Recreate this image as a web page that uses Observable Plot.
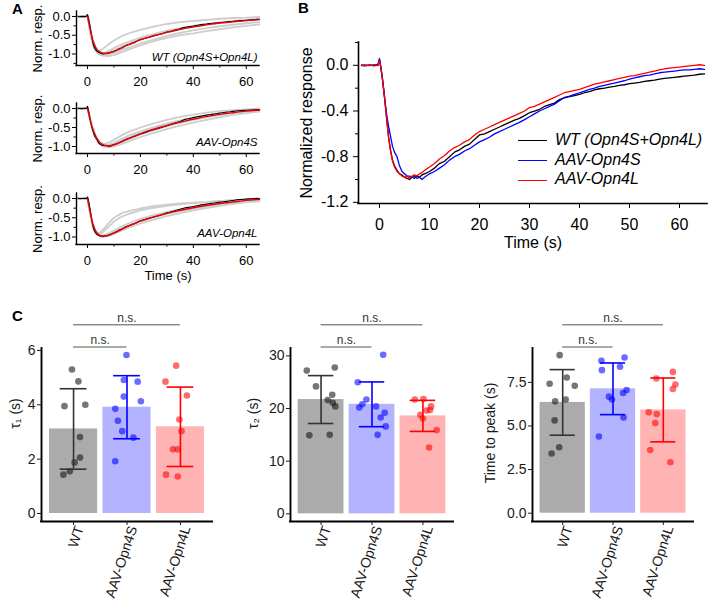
<!DOCTYPE html>
<html>
<head>
<meta charset="utf-8">
<script src="https://cdn.jsdelivr.net/npm/d3@7"></script>
<script src="https://cdn.jsdelivr.net/npm/@observablehq/plot@0.6"></script>
<style>
  html, body { margin: 0; padding: 0; background: #fff; }
  #fig { position: relative; width: 708px; height: 604px; overflow: hidden; font-family: Arial, 'Liberation Sans', sans-serif; background: #fff; color: #000; }
  .plab { position: absolute; font-weight: bold; font-size: 15px; line-height: 15px; }
  .leg { position: absolute; left: 518px; font-size: 16px; font-style: italic; line-height: 18px; white-space: nowrap; }
  .leg i { display: inline-block; width: 29px; height: 0; border-top: 1.5px solid; vertical-align: middle; margin-right: 8px; }
</style>
</head>
<body>
<div id="fig">
  <div class="plab" style="left:12px;top:1px">A</div>
  <div class="plab" style="left:298px;top:0px">B</div>
  <div class="plab" style="left:12px;top:308px">C</div>
</div>
<script>
// ---------- Data: time courses (normalized response) ----------
const seriesNames = ["WT (Opn4S+Opn4L)", "AAV-Opn4S", "AAV-Opn4L"];
const seriesColors = ["#000000", "#0000ff", "#ff0000"];

const tB = [-3.6,-3,-2,-1,-0.3,0,0.3,0.6,1,1.4,1.8,2.2,2.6,3,3.5,4,4.5,5,5.5,6,6.5,7,7.5,8,8.5,9,
  10,11,12,13,14,15,16,17,18,19,20,21,22,23,24,25,26,27,28,29,30,31,32,33,34,35,36,37,38,39,
  40,41,42,43,44,45,46,47,48,49,50,51,52,53,54,55,56,57,58,59,60,61,62,63,64,65];

const wtTrace = [0.0,-0.005,0.003,-0.004,0.01,0.05,-0.02,-0.12,-0.27,-0.45,-0.62,-0.74,-0.83,-0.88,-0.92,-0.95,-0.96,-0.98,-0.99,-1.0,-0.98,-0.99,-0.97,-0.98,-0.96,-0.95,
  -0.93,-0.9,-0.86,-0.84,-0.8,-0.76,-0.74,-0.71,-0.69,-0.65,-0.61,-0.6,-0.58,-0.56,-0.54,-0.52,-0.5,-0.48,-0.465,-0.44,
  -0.415,-0.4,-0.385,-0.36,-0.345,-0.33,-0.3,-0.285,-0.275,-0.265,-0.255,-0.24,-0.23,-0.215,-0.205,-0.2,-0.19,-0.185,-0.175,-0.17,
  -0.16,-0.155,-0.15,-0.14,-0.135,-0.13,-0.12,-0.115,-0.11,-0.105,-0.1,-0.095,-0.09,-0.085,-0.078,-0.075];

const opn4sTrace = [0.0,0.004,-0.003,0.005,0.0,0.06,-0.03,-0.12,-0.28,-0.42,-0.53,-0.62,-0.71,-0.76,-0.8,-0.88,-0.93,-0.95,-0.97,-0.97,-0.98,-0.97,-0.99,-0.98,-1.0,-0.98,
  -0.95,-0.93,-0.9,-0.87,-0.83,-0.8,-0.78,-0.75,-0.73,-0.7,-0.67,-0.65,-0.63,-0.6,-0.58,-0.56,-0.54,-0.52,-0.5,-0.475,
  -0.45,-0.425,-0.4,-0.38,-0.36,-0.34,-0.31,-0.28,-0.27,-0.255,-0.24,-0.225,-0.21,-0.2,-0.185,-0.175,-0.165,-0.155,-0.145,-0.135,
  -0.12,-0.11,-0.1,-0.09,-0.085,-0.075,-0.065,-0.06,-0.055,-0.05,-0.045,-0.04,-0.04,-0.035,-0.03,-0.035];

const opn4lTrace = [0.005,-0.003,0.0,0.004,-0.003,0.04,-0.03,-0.13,-0.28,-0.46,-0.63,-0.75,-0.84,-0.89,-0.93,-0.95,-0.97,-0.98,-0.97,-0.99,-0.97,-0.96,-0.97,-0.95,-0.94,-0.92,
  -0.89,-0.86,-0.82,-0.79,-0.75,-0.72,-0.7,-0.67,-0.65,-0.61,-0.58,-0.56,-0.54,-0.52,-0.5,-0.48,-0.46,-0.44,-0.42,-0.4,
  -0.37,-0.36,-0.34,-0.32,-0.3,-0.28,-0.26,-0.24,-0.23,-0.22,-0.21,-0.195,-0.18,-0.165,-0.155,-0.145,-0.135,-0.125,-0.115,-0.105,
  -0.095,-0.09,-0.08,-0.07,-0.06,-0.05,-0.04,-0.03,-0.025,-0.02,-0.015,-0.01,-0.005,0.0,0.005,0.0];

// Fits (red lines in panel A)
const tFit = [0,0.5,1,1.5,2,2.5,3,3.5,4,5,6,7,8,9,10,12,14,16,18,20,23,26,30,34,38,42,46,50,55,60,65];
const wtFit = [0.0,-0.16,-0.34,-0.5,-0.63,-0.73,-0.81,-0.87,-0.91,-0.96,-0.98,-0.985,-0.975,-0.955,-0.93,-0.87,-0.8,-0.74,-0.68,-0.62,-0.555,-0.495,-0.425,-0.36,-0.305,-0.255,-0.21,-0.175,-0.14,-0.11,-0.085];
const opn4sFit = [0.0,-0.15,-0.3,-0.43,-0.54,-0.63,-0.71,-0.78,-0.83,-0.91,-0.955,-0.975,-0.98,-0.97,-0.955,-0.9,-0.84,-0.78,-0.72,-0.665,-0.59,-0.525,-0.45,-0.375,-0.31,-0.25,-0.2,-0.155,-0.11,-0.07,-0.04];
const opn4lFit = [0.0,-0.17,-0.35,-0.52,-0.65,-0.75,-0.83,-0.88,-0.92,-0.965,-0.975,-0.97,-0.955,-0.93,-0.9,-0.835,-0.765,-0.7,-0.645,-0.59,-0.52,-0.46,-0.385,-0.32,-0.265,-0.215,-0.17,-0.13,-0.09,-0.05,-0.02];

// Individual cells (gray lines in panel A)
const tGray = [-4,-1,0,1,2,3,4,5,6,8,10,13,16,20,25,30,35,40,45,50,55,60,65];
const wtGray = [
  [0.02,-0.01,0.03,-0.42,-0.76,-0.9,-0.93,-0.9,-0.85,-0.74,-0.64,-0.52,-0.44,-0.36,-0.27,-0.2,-0.15,-0.12,-0.09,-0.06,-0.04,-0.03,-0.01],
  [0.0,0.01,0.02,-0.3,-0.68,-0.88,-0.97,-1.0,-0.98,-0.92,-0.84,-0.74,-0.66,-0.56,-0.47,-0.38,-0.31,-0.25,-0.2,-0.16,-0.12,-0.09,-0.06],
  [-0.01,0.0,0.02,-0.35,-0.72,-0.92,-1.0,-1.03,-1.04,-1.02,-0.97,-0.89,-0.82,-0.72,-0.62,-0.52,-0.44,-0.37,-0.31,-0.26,-0.22,-0.18,-0.15],
  [0.01,-0.01,0.02,-0.38,-0.7,-0.86,-0.93,-0.96,-0.97,-0.95,-0.9,-0.8,-0.71,-0.6,-0.49,-0.4,-0.33,-0.27,-0.22,-0.17,-0.13,-0.1,-0.07],
  [0.0,0.0,0.01,-0.28,-0.6,-0.82,-0.94,-1.0,-1.04,-1.06,-1.03,-0.95,-0.87,-0.77,-0.66,-0.57,-0.5,-0.45,-0.39,-0.34,-0.29,-0.25,-0.21]
];
const opn4sGray = [
  [0.01,0.0,0.03,-0.32,-0.58,-0.76,-0.87,-0.93,-0.94,-0.9,-0.82,-0.7,-0.6,-0.5,-0.39,-0.3,-0.22,-0.16,-0.11,-0.07,-0.04,-0.02,0.0],
  [0.0,0.01,0.02,-0.3,-0.55,-0.73,-0.85,-0.93,-0.97,-0.96,-0.9,-0.8,-0.7,-0.6,-0.49,-0.39,-0.31,-0.24,-0.18,-0.13,-0.09,-0.06,-0.03],
  [-0.01,0.0,0.02,-0.26,-0.5,-0.7,-0.84,-0.93,-0.99,-1.01,-0.97,-0.88,-0.79,-0.68,-0.57,-0.47,-0.38,-0.3,-0.23,-0.17,-0.12,-0.08,-0.05],
  [0.0,-0.01,0.02,-0.28,-0.52,-0.72,-0.86,-0.95,-1.0,-1.02,-1.0,-0.93,-0.85,-0.75,-0.64,-0.54,-0.45,-0.37,-0.3,-0.23,-0.17,-0.12,-0.08],
  [0.01,0.0,0.01,-0.3,-0.56,-0.75,-0.88,-0.95,-0.98,-0.97,-0.93,-0.84,-0.75,-0.64,-0.53,-0.43,-0.35,-0.28,-0.21,-0.15,-0.11,-0.07,-0.04]
];
const opn4lGray = [
  [0.01,0.0,0.03,-0.42,-0.76,-0.9,-0.92,-0.87,-0.8,-0.64,-0.5,-0.38,-0.32,-0.26,-0.2,-0.16,-0.13,-0.11,-0.09,-0.06,-0.04,-0.02,-0.01],
  [0.0,0.01,0.02,-0.38,-0.72,-0.88,-0.93,-0.91,-0.86,-0.73,-0.6,-0.47,-0.39,-0.31,-0.24,-0.19,-0.15,-0.12,-0.1,-0.07,-0.05,-0.03,-0.02],
  [-0.01,0.0,0.02,-0.36,-0.7,-0.88,-0.95,-0.97,-0.96,-0.9,-0.83,-0.72,-0.63,-0.53,-0.43,-0.35,-0.28,-0.22,-0.17,-0.12,-0.08,-0.05,-0.03],
  [0.0,-0.01,0.02,-0.33,-0.66,-0.86,-0.95,-0.99,-1.0,-0.97,-0.92,-0.83,-0.75,-0.65,-0.55,-0.46,-0.38,-0.31,-0.25,-0.19,-0.14,-0.1,-0.07],
  [0.01,0.0,0.01,-0.35,-0.68,-0.87,-0.95,-0.98,-0.98,-0.94,-0.88,-0.78,-0.69,-0.59,-0.49,-0.4,-0.33,-0.26,-0.21,-0.15,-0.11,-0.07,-0.05]
];

// ---------- Data: kinetics summary (panel C) ----------
const groups = ["WT", "AAV-Opn4S", "AAV-Opn4L"];

const tau1Mean = [3.11, 3.91, 3.19];
const tau1Sd = [1.48, 1.16, 1.46];
const tau1Points = [
  [5.3,4.86,3.95,4.0,2.81,2.06,1.88,1.55,1.43],
  [5.83,4.91,4.85,4.30,4.13,3.85,3.41,3.03,2.79,1.92],
  [5.44,4.85,4.34,3.46,3.03,2.36,2.36,1.43,1.36]
];
const tau1Jitter = [
  [-0.03,0.09,-0.17,0.22,0.12,0.12,0.02,-0.07,-0.19],
  [-0.01,-0.06,0.2,-0.06,0.26,-0.22,-0.17,-0.09,0.12,-0.22],
  [-0.08,-0.28,0.12,-0.02,0.02,-0.14,-0.05,-0.27,-0.05]
];

const tau2Mean = [21.7, 20.8, 18.6];
const tau2Sd = [4.55, 4.25, 2.95];
const tau2Points = [
  [27.2,27.8,24.2,22.6,21.6,21.1,20.4,14.9,15.0],
  [30.2,25.0,21.7,20.8,20.2,20.4,19.2,18.3,16.6,15.0],
  [21.7,21.8,20.4,19.7,19.6,18.8,18.1,15.9,12.6]
];
const tau2Jitter = [
  [-0.28,0.27,-0.1,0.22,0.13,0.23,0.28,-0.23,0.17],
  [0.22,-0.28,-0.11,-0.19,-0.25,0.08,0.25,0.17,0.27,0.11],
  [-0.16,0.01,0.16,0.14,0.07,-0.05,0.0,0.27,0.12]
];

const ttpMean = [6.35, 7.13, 5.92];
const ttpSd = [1.88, 1.48, 1.83];
const ttpPoints = [
  [9.06,7.78,7.42,7.3,6.52,6.41,5.32,3.78,3.42],
  [8.74,8.92,8.2,8.39,7.06,6.89,6.68,6.52,5.49,4.40],
  [7.72,8.1,7.38,7.12,5.68,5.78,5.17,3.62,2.92]
];
const ttpJitter = [
  [-0.06,0.08,-0.26,0.24,0.06,-0.15,-0.16,-0.07,-0.22],
  [-0.23,0.23,-0.22,0.14,0.27,0.2,-0.08,-0.02,0.21,-0.28],
  [-0.14,0.19,0.24,0.19,-0.13,-0.29,-0.16,-0.26,0.14]
];

const nsPairs = [[0, 1, "n.s."], [0, 2, "n.s."]];

// ---------- Rendering ----------
const FONT = "Arial, 'Liberation Sans', sans-serif";
const fig = document.getElementById("fig");
function place(el, left, top) {
  const d = document.createElement("div");
  d.style.cssText = `position:absolute;left:${left}px;top:${top}px;`;
  d.appendChild(el);
  fig.appendChild(d);
}
function axisLines(xDom, yDom, w) {
  return [
    Plot.ruleX([xDom[0]], {stroke: "#000", strokeWidth: w, strokeLinecap: "square"}),
    Plot.ruleY([yDom[0]], {stroke: "#000", strokeWidth: w, strokeLinecap: "square"})
  ];
}
const series = (t, v) => t.map((x, i) => ({t: x, v: v[i]}));
const yTitle = (label, dx, dy, fontSize) =>
  Plot.text([label], {text: d => d, frameAnchor: "left", dx, dy, rotate: -90, textAnchor: "middle", lineAnchor: "middle", fontSize});
const xTitle = (label, dy, fontSize) =>
  Plot.text([label], {text: d => d, frameAnchor: "bottom", dy, textAnchor: "middle", lineAnchor: "middle", fontSize});

// Panel A
const A_X = [-4.15, 65];
const aCfg = [
  {top: 0, height: 90, mt: 11, mb: 25, yDom: [-1.307, 0.133], minorY: [-0.25, -0.75, -1.25], trace: wtTrace, fit: wtFit, grays: wtGray, label: seriesNames[0], labDy: -5},
  {top: 90, height: 90, mt: 13, mb: 27, yDom: [-1.184, 0.132], minorY: [-0.25, -0.75], trace: opn4sTrace, fit: opn4sFit, grays: opn4sGray, label: seriesNames[1], labDy: -8},
  {top: 180, height: 110, mt: 13, mb: 46, yDom: [-1.195, 0.13], minorY: [-0.25, -0.75], trace: opn4lTrace, fit: opn4lFit, grays: opn4lGray, label: seriesNames[2], labDy: -7.5, xlabel: "Time (s)"}
];
for (const c of aCfg) {
  const marks = [
    ...c.grays.map(g => Plot.line(series(tGray, g), {x: "t", y: "v", stroke: "#cdcdcd", strokeWidth: 1.8})),
    Plot.line(series(tB, c.trace), {x: "t", y: "v", stroke: "#000", strokeWidth: 1.1}),
    Plot.line(series(tFit, c.fit), {x: "t", y: "v", stroke: "#e8000b", strokeWidth: 1.4, curve: "monotone-x"}),
    ...axisLines(A_X, c.yDom, 1.4),
    Plot.axisX({ticks: [0, 20, 40, 60], tickSize: 4, tickPadding: 7, tickFormat: d => String(d), fontSize: 13, label: null}),
    Plot.axisX({ticks: [10, 30, 50], tickSize: 2.5, tickFormat: () => "", label: null}),
    Plot.axisY({ticks: [0, -0.5, -1], tickSize: 4, tickPadding: 2, tickFormat: d => d.toFixed(1), fontSize: 13, label: null}),
    Plot.axisY({ticks: c.minorY, tickSize: 2.5, tickFormat: () => "", label: null}),
    yTitle("Norm. resp.", -39, 0, 13),
    Plot.text([c.label], {text: d => d, frameAnchor: "bottom-right", dx: -2, dy: c.labDy, textAnchor: "end", lineAnchor: "bottom", fontStyle: "italic", fontSize: 11.5})
  ];
  if (c.xlabel) marks.push(xTitle(c.xlabel, 31, 13));
  const p = Plot.plot({
    width: 265, height: c.height, marginLeft: 76, marginRight: 6, marginTop: c.mt, marginBottom: c.mb,
    style: {fontFamily: FONT, fontSize: "13px", background: "transparent", overflow: "visible", color: "#000"},
    x: {domain: A_X}, y: {domain: c.yDom},
    marks
  });
  place(p, 0, c.top);
}

// Panel B
const B_X = [-4.2, 65.6], B_Y = [-1.21, 0.2];
const traces = [wtTrace, opn4sTrace, opn4lTrace];
const pB = Plot.plot({
  width: 438, height: 260, marginLeft: 88, marginRight: 1, marginTop: 42, marginBottom: 57,
  style: {fontFamily: FONT, fontSize: "16px", background: "transparent", overflow: "visible", color: "#000"},
  x: {domain: B_X}, y: {domain: B_Y},
  marks: [
    ...traces.map((tr, k) => Plot.line(series(tB, tr), {x: "t", y: "v", stroke: seriesColors[k], strokeWidth: 1.3})),
    ...axisLines(B_X, B_Y, 1.6),
    Plot.axisX({ticks: [0, 10, 20, 30, 40, 50, 60], tickSize: 5, tickPadding: 10, tickFormat: d => String(d), fontSize: 16, label: null}),
    Plot.axisY({ticks: [0, -0.4, -0.8, -1.2], tickSize: 5, tickPadding: 5, tickFormat: d => d.toFixed(1), fontSize: 16, label: null}),
    Plot.axisY({ticks: [0.2, -0.2, -0.6, -1.0], tickSize: 3, tickFormat: () => "", label: null}),
    yTitle("Normalized response", -52, 0, 16),
    xTitle("Time (s)", 39.5, 16)
  ]
});
place(pB, 270, 0);

// Legend of panel B
seriesNames.forEach((name, k) => {
  const d = document.createElement("div");
  d.className = "leg";
  d.style.top = (131 + k * 19.7) + "px";
  d.innerHTML = `<i style="border-color:${seriesColors[k]}"></i>${name}`;
  fig.appendChild(d);
});

// Panel C
const barFill = ["#ababab", "#b3b3ff", "#ffb3b3"];
const dotFill = ["#111111", "#0000ff", "#ff0000"];
const errStroke = ["#333333", "#0000ff", "#ff0000"];
const C_X = [-0.6, 2.6];
const cCfg = [
  {left: 0, width: 230, ml: 41, mr: 18, yDom: [-0.294, 6.07], ticks: [0, 2, 4, 6], fmt: d => String(d), ylab: "τ₁ (s)", labDx: -26, labDy: -21.5, mean: tau1Mean, sd: tau1Sd, pts: tau1Points, jit: tau1Jitter},
  {left: 230, width: 230, ml: 60, mr: 7, yDom: [-1.46, 31.4], ticks: [0, 10, 20, 30], fmt: d => String(d), ylab: "τ₂ (s)", labDx: -37, labDy: -21.5, mean: tau2Mean, sd: tau2Sd, pts: tau2Points, jit: tau2Jitter},
  {left: 460, width: 248, ml: 72, mr: 15, yDom: [-0.475, 9.44], ticks: [0, 2.5, 5, 7.5], fmt: d => d.toFixed(1), ylab: "Time to peak (s)", labDx: -42, labDy: -2, mean: ttpMean, sd: ttpSd, pts: ttpPoints, jit: ttpJitter}
];
const C_H = 304, C_MT = 48, C_MB = 83;
for (const c of cCfg) {
  const bars = groups.map((g, i) => ({i, g, mean: c.mean[i], lo: c.mean[i] - c.sd[i], hi: c.mean[i] + c.sd[i]}));
  const dots = c.pts.flatMap((arr, i) => arr.map((v, j) => ({i, v, x: i + c.jit[i][j]})));
  const pxPerUnit = (C_H - C_MT - C_MB) / (c.yDom[1] - c.yDom[0]);
  const levelY = px => c.yDom[1] + px / pxPerUnit;
  const br = nsPairs.map(([a, b, lab], k) => ({a, b, lab, y: levelY(k === 0 ? 1.5 : 23.7)}));
  const p = Plot.plot({
    width: c.width, height: C_H, marginLeft: c.ml, marginRight: c.mr, marginTop: C_MT, marginBottom: C_MB,
    style: {fontFamily: FONT, fontSize: "14px", background: "transparent", overflow: "visible", color: "#1a1a1a"},
    x: {domain: C_X}, y: {domain: c.yDom},
    color: {type: "identity"},
    marks: [
      Plot.rect(bars, {x1: d => d.i - 0.45, x2: d => d.i + 0.45, y1: () => 0, y2: "mean", fill: d => barFill[d.i]}),
      Plot.dot(dots, {x: "x", y: "v", r: 3.3, fill: d => dotFill[d.i], fillOpacity: 0.58, stroke: "none"}),
      Plot.ruleX(bars, {x: "i", y1: "lo", y2: "hi", stroke: d => errStroke[d.i], strokeWidth: 1.6}),
      Plot.ruleY(bars, {y: "hi", x1: d => d.i - 0.25, x2: d => d.i + 0.25, stroke: d => errStroke[d.i], strokeWidth: 1.6}),
      Plot.ruleY(bars, {y: "lo", x1: d => d.i - 0.25, x2: d => d.i + 0.25, stroke: d => errStroke[d.i], strokeWidth: 1.6}),
      Plot.ruleY(br, {y: "y", x1: "a", x2: "b", stroke: "#555", strokeWidth: 1}),
      Plot.text(br, {x: d => (d.a + d.b) / 2, y: "y", text: "lab", lineAnchor: "bottom", dy: -3, fontSize: 12, fill: "#333"}),
      ...axisLines(C_X, c.yDom, 1.9),
      Plot.axisX({ticks: [0, 1, 2], tickSize: 4, tickFormat: () => "", label: null}),
      Plot.axisX({ticks: [0, 1, 2], tickSize: 0, tickPadding: 5, tickRotate: -72, tickFormat: i => groups[i], fontSize: 14, label: null, dx: 6}),
      Plot.axisY({ticks: c.ticks, tickSize: 4, tickPadding: 2, tickFormat: c.fmt, fontSize: 14, label: null}),
      yTitle(c.ylab, c.labDx, c.labDy, 14)
    ]
  });
  place(p, c.left, 300);
}
</script>
</body>
</html>
